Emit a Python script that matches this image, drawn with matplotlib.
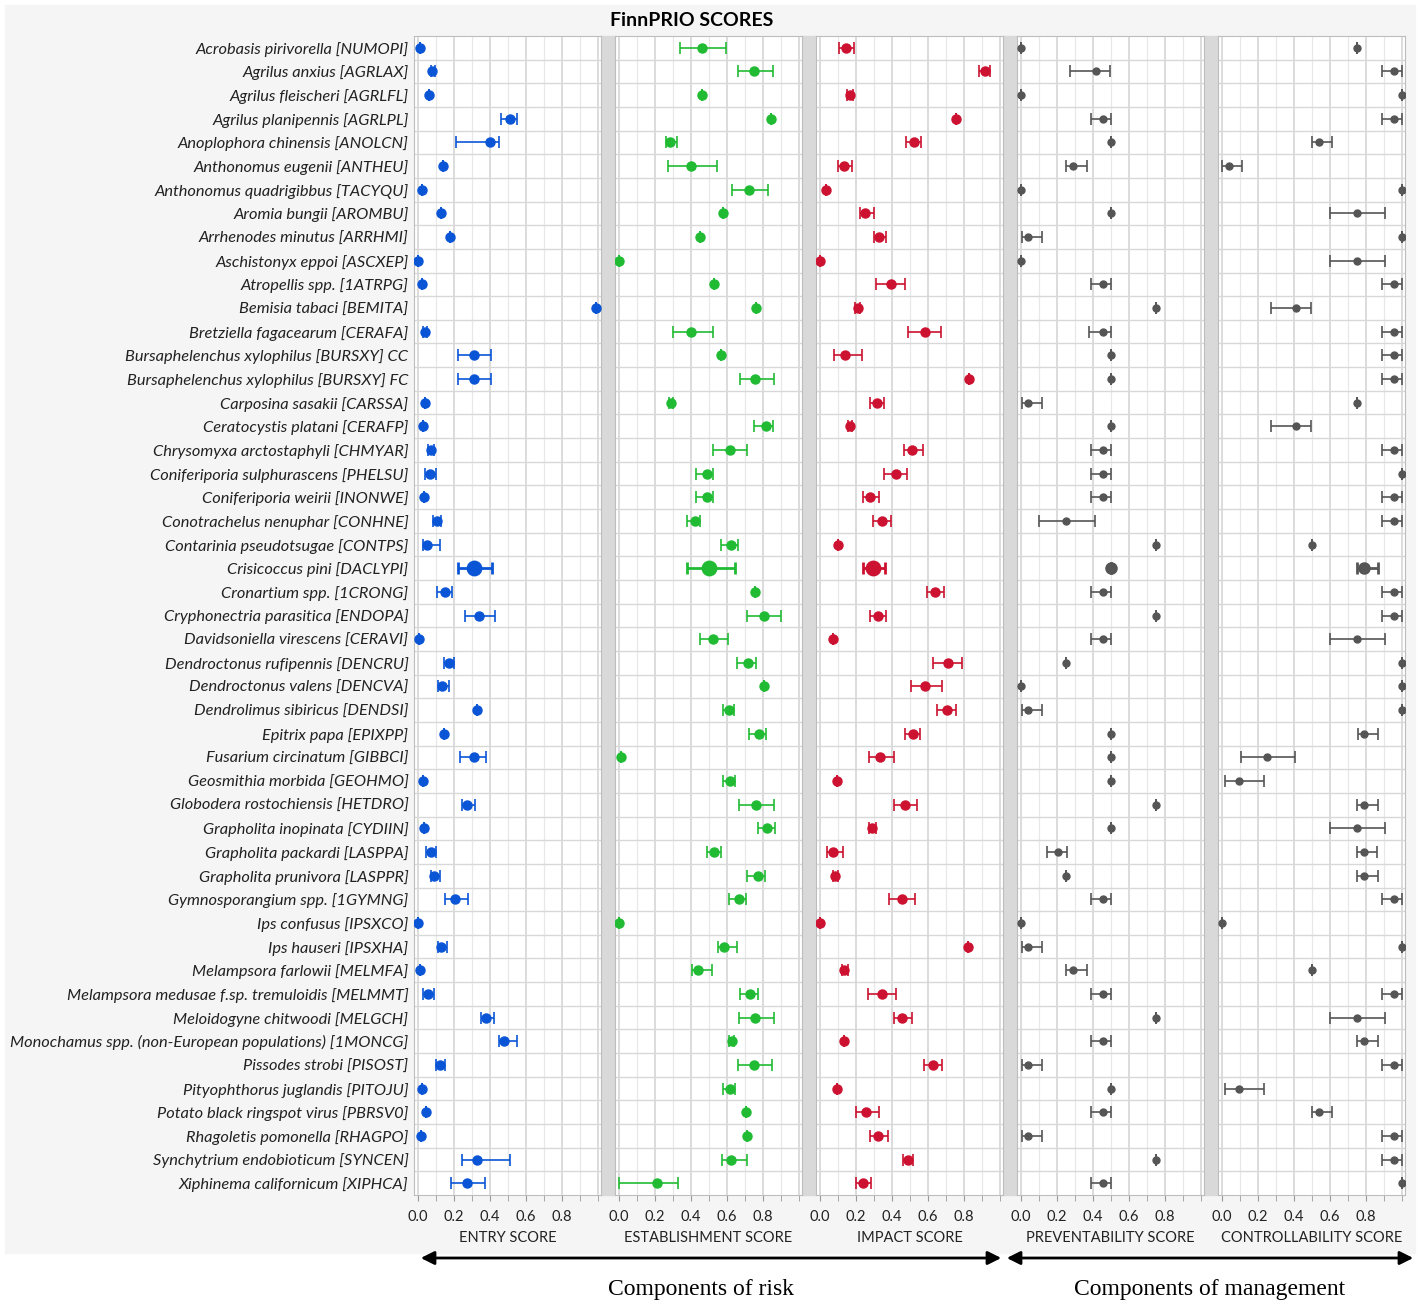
import numpy as np
import matplotlib
matplotlib.use('Agg')
import matplotlib.pyplot as plt
from matplotlib.patches import Rectangle, FancyArrowPatch

plt.rcParams['font.family'] = ['Lato', 'DejaVu Sans']

# 数据: 物种 / 各项得分 (点估计, 下限, 上限)
species = [
    'Acrobasis pirivorella [NUMOPI]', 'Agrilus anxius [AGRLAX]', 'Agrilus fleischeri [AGRLFL]',
    'Agrilus planipennis [AGRLPL]', 'Anoplophora chinensis [ANOLCN]', 'Anthonomus eugenii [ANTHEU]',
    'Anthonomus quadrigibbus [TACYQU]', 'Aromia bungii [AROMBU]', 'Arrhenodes minutus [ARRHMI]',
    'Aschistonyx eppoi [ASCXEP]', 'Atropellis spp. [1ATRPG]', 'Bemisia tabaci [BEMITA]',
    'Bretziella fagacearum [CERAFA]', 'Bursaphelenchus xylophilus [BURSXY] CC',
    'Bursaphelenchus xylophilus [BURSXY] FC', 'Carposina sasakii [CARSSA]',
    'Ceratocystis platani [CERAFP]', 'Chrysomyxa arctostaphyli [CHMYAR]',
    'Coniferiporia sulphurascens [PHELSU]', 'Coniferiporia weirii [INONWE]',
    'Conotrachelus nenuphar [CONHNE]', 'Contarinia pseudotsugae [CONTPS]',
    'Crisicoccus pini [DACLYPI]', 'Cronartium spp. [1CRONG]', 'Cryphonectria parasitica [ENDOPA]',
    'Davidsoniella virescens [CERAVI]', 'Dendroctonus rufipennis [DENCRU]',
    'Dendroctonus valens [DENCVA]', 'Dendrolimus sibiricus [DENDSI]', 'Epitrix papa [EPIXPP]',
    'Fusarium circinatum [GIBBCI]', 'Geosmithia morbida [GEOHMO]', 'Globodera rostochiensis [HETDRO]',
    'Grapholita inopinata [CYDIIN]', 'Grapholita packardi [LASPPA]', 'Grapholita prunivora [LASPPR]',
    'Gymnosporangium spp. [1GYMNG]', 'Ips confusus [IPSXCO]', 'Ips hauseri [IPSXHA]',
    'Melampsora farlowii [MELMFA]', 'Melampsora medusae f.sp. tremuloidis [MELMMT]',
    'Meloidogyne chitwoodi [MELGCH]', 'Monochamus spp. (non-European populations) [1MONCG]',
    'Pissodes strobi [PISOST]', 'Pityophthorus juglandis [PITOJU]',
    'Potato black ringspot virus [PBRSV0]', 'Rhagoletis pomonella [RHAGPO]',
    'Synchytrium endobioticum [SYNCEN]', 'Xiphinema californicum [XIPHCA]',
]
highlight = 'Crisicoccus pini [DACLYPI]'

entry = [0.01, 0.08, 0.06, 0.51, 0.40, 0.14, 0.02, 0.13, 0.18, 0.0, 0.02, 0.99, 0.04, 0.31, 0.31,
         0.04, 0.03, 0.07, 0.065, 0.035, 0.105, 0.05, 0.31, 0.15, 0.34,
         0.005, 0.17, 0.135, 0.33, 0.145, 0.31, 0.03, 0.27, 0.035, 0.07, 0.09, 0.205, 0.0, 0.13,
         0.01, 0.055, 0.38, 0.48, 0.125, 0.025, 0.045, 0.015, 0.33, 0.275]
entry_lo = [0.01, 0.07, 0.06, 0.46, 0.21, 0.14, 0.02, 0.13, 0.18, 0.0, 0.02, 0.99, 0.03, 0.22, 0.22,
            0.04, 0.03, 0.055, 0.04, 0.035, 0.085, 0.03, 0.22, 0.105, 0.26,
            0.005, 0.146, 0.11, 0.33, 0.145, 0.235, 0.03, 0.246, 0.035, 0.046, 0.07, 0.148, 0.0, 0.113,
            0.01, 0.03, 0.35, 0.45, 0.10, 0.025, 0.045, 0.015, 0.246, 0.185]
entry_hi = [0.01, 0.095, 0.06, 0.55, 0.45, 0.14, 0.02, 0.13, 0.18, 0.0, 0.02, 0.99, 0.05, 0.405, 0.405,
            0.04, 0.03, 0.09, 0.10, 0.035, 0.13, 0.12, 0.41, 0.19, 0.43,
            0.005, 0.20, 0.175, 0.33, 0.145, 0.38, 0.03, 0.315, 0.035, 0.10, 0.125, 0.276, 0.0, 0.16,
            0.01, 0.087, 0.424, 0.548, 0.15, 0.025, 0.045, 0.015, 0.51, 0.37]

establishment = [0.46, 0.75, 0.46, 0.843, 0.283, 0.40, 0.72, 0.578, 0.448, 0.0, 0.53, 0.76, 0.40,
                 0.568, 0.757, 0.287, 0.815, 0.615, 0.49, 0.49, 0.422, 0.62, 0.50, 0.757, 0.806,
                 0.52, 0.718, 0.806, 0.613, 0.776, 0.011, 0.615, 0.76, 0.824, 0.53, 0.77, 0.667, 0.0,
                 0.583, 0.44, 0.73, 0.757, 0.626, 0.75, 0.615, 0.705, 0.713, 0.62, 0.213]
establishment_lo = [0.337, 0.66, 0.46, 0.843, 0.26, 0.27, 0.63, 0.578, 0.448, 0.0, 0.53, 0.76, 0.30,
                    0.568, 0.67, 0.28, 0.75, 0.52, 0.426, 0.426, 0.38, 0.565, 0.376, 0.757, 0.713,
                    0.448, 0.655, 0.806, 0.58, 0.72, 0.011, 0.58, 0.668, 0.77, 0.49, 0.713, 0.61, 0.0,
                    0.55, 0.404, 0.674, 0.668, 0.61, 0.66, 0.58, 0.705, 0.713, 0.57, 0.002]
establishment_hi = [0.594, 0.854, 0.46, 0.843, 0.322, 0.544, 0.83, 0.578, 0.448, 0.0, 0.53, 0.76, 0.52,
                    0.568, 0.86, 0.30, 0.854, 0.713, 0.524, 0.524, 0.45, 0.663, 0.644, 0.757, 0.90,
                    0.604, 0.76, 0.806, 0.64, 0.818, 0.011, 0.644, 0.861, 0.868, 0.568, 0.81, 0.707, 0.0,
                    0.655, 0.517, 0.772, 0.86, 0.64, 0.852, 0.644, 0.705, 0.713, 0.713, 0.33]

impact = [0.144, 0.917, 0.168, 0.757, 0.52, 0.135, 0.033, 0.248, 0.33, 0.0, 0.393, 0.21, 0.583,
          0.139, 0.83, 0.317, 0.165, 0.513, 0.42, 0.28, 0.343, 0.098, 0.294, 0.64, 0.322,
          0.07, 0.71, 0.583, 0.704, 0.515, 0.335, 0.093, 0.472, 0.29, 0.072, 0.083, 0.454, 0.0,
          0.824, 0.135, 0.343, 0.457, 0.135, 0.628, 0.093, 0.257, 0.324, 0.49, 0.24]
impact_lo = [0.104, 0.883, 0.15, 0.757, 0.48, 0.10, 0.033, 0.224, 0.298, 0.0, 0.31, 0.195, 0.49,
             0.076, 0.83, 0.28, 0.155, 0.465, 0.355, 0.237, 0.296, 0.098, 0.24, 0.596, 0.28,
             0.07, 0.628, 0.504, 0.648, 0.472, 0.274, 0.093, 0.413, 0.275, 0.04, 0.075, 0.385, 0.0,
             0.824, 0.12, 0.267, 0.413, 0.135, 0.576, 0.093, 0.20, 0.28, 0.462, 0.20]
impact_hi = [0.19, 0.944, 0.185, 0.757, 0.563, 0.176, 0.033, 0.30, 0.367, 0.0, 0.474, 0.225, 0.674,
             0.233, 0.83, 0.354, 0.18, 0.57, 0.483, 0.33, 0.396, 0.098, 0.36, 0.69, 0.368,
             0.07, 0.79, 0.68, 0.755, 0.557, 0.41, 0.093, 0.54, 0.31, 0.13, 0.10, 0.528, 0.0,
             0.824, 0.155, 0.424, 0.51, 0.135, 0.68, 0.093, 0.328, 0.378, 0.518, 0.285]

preventability = [0.0, 0.415, 0.0, 0.456, 0.5, 0.29, 0.0, 0.5, 0.04, 0.0, 0.456, 0.75, 0.456, 0.5, 0.5,
                  0.04, 0.5, 0.456, 0.456, 0.456, 0.248, 0.75, 0.5, 0.456, 0.75,
                  0.456, 0.25, 0.0, 0.04, 0.5, 0.5, 0.5, 0.75, 0.5, 0.205, 0.25, 0.456, 0.0, 0.04,
                  0.29, 0.456, 0.75, 0.456, 0.04, 0.5, 0.456, 0.04, 0.75, 0.456]
preventability_lo = [0.0, 0.274, 0.0, 0.39, 0.5, 0.252, 0.0, 0.5, 0.004, 0.0, 0.39, 0.75, 0.38, 0.5, 0.5,
                     0.004, 0.5, 0.39, 0.39, 0.39, 0.10, 0.75, 0.5, 0.39, 0.75,
                     0.39, 0.25, 0.0, 0.004, 0.5, 0.5, 0.5, 0.75, 0.5, 0.143, 0.25, 0.39, 0.0, 0.004,
                     0.252, 0.39, 0.75, 0.39, 0.004, 0.5, 0.39, 0.004, 0.75, 0.39]
preventability_hi = [0.0, 0.494, 0.0, 0.5, 0.5, 0.365, 0.0, 0.5, 0.115, 0.0, 0.5, 0.75, 0.5, 0.5, 0.5,
                     0.115, 0.5, 0.5, 0.5, 0.5, 0.41, 0.75, 0.5, 0.5, 0.75,
                     0.5, 0.25, 0.0, 0.115, 0.5, 0.5, 0.5, 0.75, 0.5, 0.256, 0.25, 0.5, 0.0, 0.115,
                     0.365, 0.5, 0.75, 0.5, 0.115, 0.5, 0.5, 0.115, 0.75, 0.5]

controllability = [0.75, 0.957, 1.0, 0.957, 0.54, 0.04, 1.0, 0.75, 1.0, 0.75, 0.957, 0.414, 0.957,
                   0.957, 0.957, 0.75, 0.414, 0.957, 1.0, 0.957, 0.957, 0.5, 0.787, 0.957, 0.957,
                   0.75, 1.0, 1.0, 1.0, 0.787, 0.253, 0.094, 0.787, 0.75, 0.787, 0.787, 0.957, 0.0,
                   1.0, 0.5, 0.957, 0.75, 0.787, 0.957, 0.094, 0.54, 0.957, 0.957, 1.0]
controllability_lo = [0.75, 0.89, 1.0, 0.89, 0.50, 0.0, 1.0, 0.60, 1.0, 0.60, 0.89, 0.27, 0.89,
                      0.89, 0.89, 0.75, 0.27, 0.89, 1.0, 0.89, 0.89, 0.5, 0.752, 0.89, 0.89,
                      0.60, 1.0, 1.0, 1.0, 0.758, 0.105, 0.018, 0.752, 0.60, 0.752, 0.752, 0.89, 0.0,
                      1.0, 0.5, 0.89, 0.60, 0.752, 0.89, 0.018, 0.50, 0.89, 0.89, 1.0]
controllability_hi = [0.75, 1.0, 1.0, 1.0, 0.61, 0.113, 1.0, 0.905, 1.0, 0.905, 1.0, 0.494, 1.0,
                      1.0, 1.0, 0.75, 0.494, 1.0, 1.0, 1.0, 1.0, 0.5, 0.867, 1.0, 1.0,
                      0.905, 1.0, 1.0, 1.0, 0.867, 0.407, 0.231, 0.867, 0.905, 0.86, 0.867, 1.0, 0.0,
                      1.0, 0.5, 1.0, 0.905, 0.867, 1.0, 0.231, 0.61, 1.0, 1.0, 1.0]

panels = [
    ('ENTRY SCORE', entry, entry_lo, entry_hi, '#0a55d6', 6.5),
    ('ESTABLISHMENT SCORE', establishment, establishment_lo, establishment_hi, '#20bb33', 6.5),
    ('IMPACT SCORE', impact, impact_lo, impact_hi, '#cc1230', 6.5),
    ('PREVENTABILITY SCORE', preventability, preventability_lo, preventability_hi, '#555555', 5),
    ('CONTROLLABILITY SCORE', controllability, controllability_lo, controllability_hi, '#555555', 5),
]

W, H = 1423, 1304
fig = plt.figure(figsize=(W / 100, H / 100), dpi=100)


def box(x0, y0, x1, y1):
    # 像素 (左上原点) -> 图坐标
    return (x0 / W, 1 - y1 / H), (x1 - x0) / W, (y1 - y0) / H


xy, w, h = box(5, 5, 1415, 1253)
fig.add_artist(Rectangle(xy, w, h, transform=fig.transFigure, color='#f5f5f5', zorder=-10))

lefts = [414, 615, 816, 1017, 1218]
pw = 187
top, bottom = 36, 1195
n = len(species)
y = np.arange(n)

for i, (name, val, lo, hi, col, ms) in enumerate(panels):
    if i < 4:
        xy, w, h = box(lefts[i] + pw, top, lefts[i + 1], bottom)
        fig.add_artist(Rectangle(xy, w, h, transform=fig.transFigure, color='#d9d9d9', zorder=-5))
    xy, w, h = box(lefts[i], top, lefts[i] + pw, bottom)
    ax = fig.add_axes([xy[0], xy[1], w, h])
    ax.set_facecolor('white')
    val = np.array(val)
    lo = np.array(lo)
    hi = np.array(hi)
    big = np.array([s == highlight for s in species])
    ax.errorbar(val[~big], y[~big], xerr=[val[~big] - lo[~big], hi[~big] - val[~big]], fmt='o',
                color=col, ms=ms, capsize=4, elinewidth=1.2, capthick=1.2, zorder=3)
    ax.errorbar(val[big], y[big], xerr=[val[big] - lo[big], hi[big] - val[big]], fmt='o',
                color=col, ms=ms * 1.6, capsize=4, elinewidth=2, capthick=2, zorder=3)
    for gx in np.arange(0, 1.01, 0.1):
        major = round(gx * 10) % 2 == 0
        ax.axvline(gx, color='#d2d2d2' if major else '#e8e8e8', lw=1.1 if major else 0.9, zorder=1)
    for gy in np.arange(n - 1) + 0.5:
        ax.axhline(gy, color='#d8d8d8', lw=1.0, zorder=1)
    ax.set_xlim(-0.022, 1.017)
    ax.set_ylim(n - 0.5, -0.5)
    ax.set_xticks(np.arange(0, 0.81, 0.2))
    ax.set_xticklabels(['0.0', '0.2', '0.4', '0.6', '0.8'], fontsize=10.5, color='#222222')
    ax.set_xticks(np.arange(0, 1.01, 0.1), minor=True)
    ax.tick_params(axis='x', which='both', length=4, color='#999999', pad=7)
    ax.set_xlabel(name, fontsize=10.5, color='#222222', labelpad=5)
    if i == 0:
        ax.set_yticks(y)
        ax.set_yticklabels(species, fontsize=11.8, style='italic', color='#222222')
        ax.tick_params(axis='y', length=0, pad=4)
    else:
        ax.set_yticks([])
    for sp in ax.spines.values():
        sp.set_color('#bdbdbd')

fig.text(692 / W, 1 - 21 / H, 'FinnPRIO SCORES', ha='center', va='center', fontsize=14, weight='bold')

ya = 1 - 1258 / H
fig.add_artist(FancyArrowPatch((418 / W, ya), (1004 / W, ya), transform=fig.transFigure,
                               arrowstyle='<|-|>', mutation_scale=20, lw=2, color='black'))
fig.add_artist(FancyArrowPatch((1004 / W, ya), (1416 / W, ya), transform=fig.transFigure,
                               arrowstyle='<|-|>', mutation_scale=20, lw=2, color='black'))
fig.text(701 / W, 1 - 1289 / H, 'Components of risk', ha='center', va='center',
         fontsize=17, family='Liberation Serif')
fig.text(1210 / W, 1 - 1289 / H, 'Components of management', ha='center', va='center',
         fontsize=17, family='Liberation Serif')

fig.savefig('out.png', dpi=100)
